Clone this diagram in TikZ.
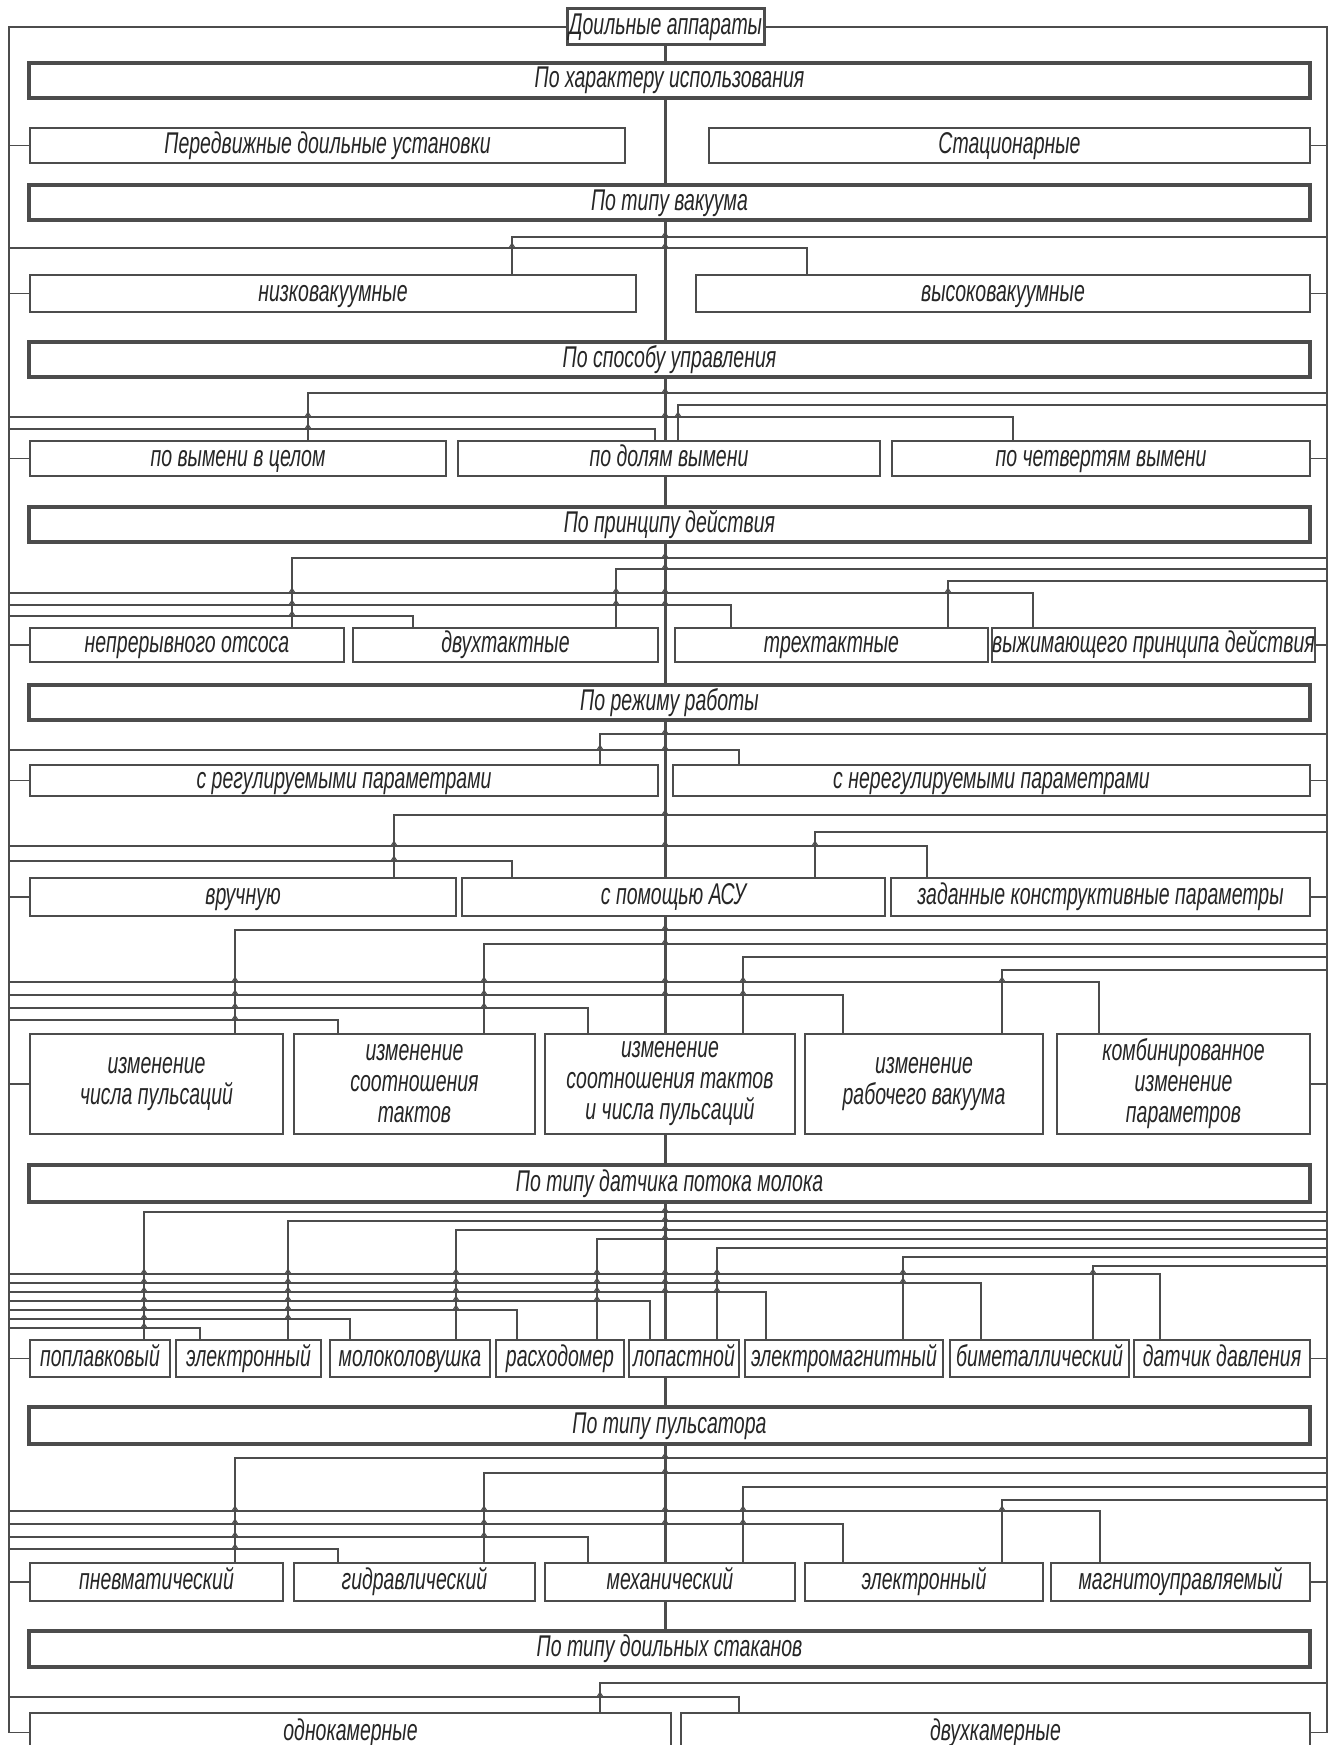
\documentclass[tikz,border=0pt]{standalone}
\usepackage{fontspec}
\newfontfamily\gostfont{Liberation Sans}[FakeStretch=0.65]
\newcommand\itembox[7][item]{%
  \pgfmathsetmacro\bw{#5-#3}\pgfmathsetmacro\bh{#6-#4}%
  \node[#1, minimum width=\bw pt, minimum height=\bh pt] (#2) at ({(#3+#5)/2},{(#4+#6)/2}) {#7};}
\newcommand\fromR[3]{\draw[wire] (R |- 0,#1) -| (#2,0 |- #3.north);}
\newcommand\fromL[3]{\draw[wire] (L |- 0,#1) -| (#2,0 |- #3.north);}
\newcommand\hop[2]{\draw[wire] (#1-3,#2) -- (#1,#2-4.5) -- (#1+3,#2);}
\begin{document}
\begin{tikzpicture}[x=1pt, y=-1pt,
  multi/.style={draw=black!70, line width=1.3pt, fill=white, inner sep=0pt, align=center,
    text=black!85, font=\gostfont\itshape\fontsize{30}{31}\selectfont},
  item/.style={multi, text height=21pt, text depth=6pt},
  bar/.style={item, line width=3.5pt},
  topbox/.style={item, line width=3pt},
  wire/.style={black!70, line width=1.2pt},
  trunk/.style={black!70, line width=3pt}]

\path[use as bounding box, fill=white] (0,0) rectangle (1341,1745);

\itembox[topbox]{top}{567}{9}{764}{45}{Доильные аппараты}
\coordinate (L) at (9,27);
\coordinate (R) at (1327,27);
\coordinate (C) at (665,45);

\itembox[bar]{b1}{29}{63}{1310}{98}{По характеру использования}
\itembox{pered}{30}{128}{625}{163}{Передвижные доильные установки}
\itembox{stac}{709}{128}{1310}{163}{Стационарные}

\itembox[bar]{b2}{29}{185}{1310}{220}{По типу вакуума}
\itembox{low}{30}{275}{636}{312}{низковакуумные}
\itembox{high}{696}{275}{1310}{312}{высоковакуумные}

\itembox[bar]{b3}{29}{342}{1310}{377}{По способу управления}
\itembox{celom}{30}{441}{446}{476}{по вымени в целом}
\itembox{dolyam}{458}{441}{880}{476}{по долям вымени}
\itembox{chetv}{892}{441}{1310}{476}{по четвертям вымени}

\itembox[bar]{b4}{29}{507}{1310}{542}{По принципу действия}
\itembox{nepr}{30}{628}{344}{662}{непрерывного отсоса}
\itembox{dvuh}{353}{628}{658}{662}{двухтактные}
\itembox{treh}{675}{628}{988}{662}{трехтактные}
\itembox{vyzh}{997}{628}{1310}{662}{выжимающего принципа действия}

\itembox[bar]{b5}{29}{685}{1310}{720}{По режиму работы}
\itembox{reg}{30}{765}{658}{796}{с регулируемыми параметрами}
\itembox{nereg}{673}{765}{1310}{796}{с нерегулируемыми параметрами}
\itembox{ruchn}{30}{878}{456}{916}{вручную}
\itembox{asu}{462}{878}{885}{916}{с помощью АСУ}
\itembox{zadan}{891}{878}{1310}{916}{заданные конструктивные параметры}
\itembox[multi]{ch1}{30}{1034}{283}{1134}{изменение\\числа пульсаций}
\itembox[multi]{ch2}{294}{1034}{535}{1134}{изменение\\соотношения\\тактов}
\itembox[multi]{ch3}{545}{1034}{795}{1134}{изменение\\соотношения тактов\\и числа пульсаций}
\itembox[multi]{ch4}{805}{1034}{1043}{1134}{изменение\\рабочего вакуума}
\itembox[multi]{ch5}{1057}{1034}{1310}{1134}{комбинированное\\изменение\\параметров}

\itembox[bar]{b6}{29}{1165}{1310}{1202}{По типу датчика потока молока}
\itembox{pop}{30}{1340}{170}{1377}{поплавковый}
\itembox{elek}{176}{1340}{321}{1377}{электронный}
\itembox{molo}{330}{1340}{490}{1377}{молоколовушка}
\itembox{rash}{496}{1340}{624}{1377}{расходомер}
\itembox{lop}{629}{1340}{739}{1377}{лопастной}
\itembox{elmag}{745}{1340}{943}{1377}{электромагнитный}
\itembox{bimet}{950}{1340}{1129}{1377}{биметаллический}
\itembox{davl}{1134}{1340}{1310}{1377}{датчик давления}

\itembox[bar]{b7}{29}{1407}{1310}{1444}{По типу пульсатора}
\itembox{pnev}{30}{1563}{283}{1601}{пневматический}
\itembox{gidr}{294}{1563}{535}{1601}{гидравлический}
\itembox{mech}{545}{1563}{795}{1601}{механический}
\itembox{elg}{805}{1563}{1043}{1601}{электронный}
\itembox{magn}{1051}{1563}{1310}{1601}{магнитоуправляемый}

\itembox[bar]{b8}{29}{1631}{1310}{1667}{По типу доильных стаканов}
\itembox[multi]{odno}{30}{1713}{671}{1752}{однокамерные}
\itembox[multi]{dvuhk}{681}{1713}{1310}{1752}{двухкамерные}

\foreach \a/\b in {top/b1,b1/b2,b2/b3,b3/dolyam,dolyam/b4,b4/b5,b5/asu,asu/ch3,ch3/b6,b6/lop,lop/b7,b7/mech,mech/b8}
  \draw[trunk] (C |- \a.south) -- (C |- \b.north);

\draw[wire] (top.west) -| (L |- odno.west) -- (odno.west);
\draw[wire] (top.east) -| (R |- dvuhk.east) -- (dvuhk.east);
\foreach \n in {pered,low,celom,nepr,reg,ruchn,ch1,pop,pnev}
  \draw[wire] (L |- \n.west) -- (\n.west);
\foreach \n in {stac,high,chetv,vyzh,nereg,zadan,ch5,davl,magn}
  \draw[wire] (\n.east) -- (R |- \n.east);

\fromR{237}{512}{low}
\fromL{248}{807}{high}

\fromR{393}{308}{celom}
\fromR{405}{678}{dolyam}
\fromL{417}{1013}{chetv}
\fromL{429}{655}{dolyam}

\fromR{558}{292}{nepr}
\fromR{569}{616}{dvuh}
\fromR{581}{948}{treh}
\fromL{593}{1033}{vyzh}
\fromL{605}{731}{treh}
\fromL{616}{413}{dvuh}

\fromR{734}{600}{reg}
\fromL{750}{739}{nereg}
\fromR{815}{394}{ruchn}
\fromR{832}{815}{asu}
\fromL{846}{927}{zadan}
\fromL{861}{512}{asu}

\fromR{930}{235}{ch1}
\fromR{944}{484}{ch2}
\fromR{957}{743}{ch3}
\fromR{970}{1002}{ch4}
\fromL{982}{1099}{ch5}
\fromL{995}{843}{ch4}
\fromL{1008}{588}{ch3}
\fromL{1020}{338}{ch2}

\fromR{1212}{144}{pop}
\fromR{1221}{288}{elek}
\fromR{1230}{456}{molo}
\fromR{1239}{597}{rash}
\fromR{1248}{717}{lop}
\fromR{1257}{903}{elmag}
\fromR{1266}{1093}{bimet}
\fromL{1274}{1160}{davl}
\fromL{1283}{981}{bimet}
\fromL{1292}{766}{elmag}
\fromL{1301}{650}{lop}
\fromL{1310}{517}{rash}
\fromL{1319}{350}{molo}
\fromL{1328}{200}{elek}

\fromR{1458}{235}{pnev}
\fromR{1473}{484}{gidr}
\fromR{1487}{743}{mech}
\fromR{1500}{1002}{elg}
\fromL{1511}{1100}{magn}
\fromL{1524}{843}{elg}
\fromL{1537}{588}{mech}
\fromL{1549}{338}{gidr}

\fromR{1683}{600}{odno}
\fromL{1697}{739}{dvuhk}

\foreach \x/\y in {665/237,512/248,665/248,
  665/393,308/417,665/417,678/417,308/429,
  665/558,665/569,292/593,616/593,665/593,948/593,292/605,616/605,665/605,292/616,
  665/734,600/750,665/750,
  665/815,394/846,665/846,815/846,394/861,
  665/930,665/944,235/982,484/982,665/982,743/982,1002/982,
  235/995,484/995,665/995,743/995,235/1008,484/1008,235/1020,
  665/1212,665/1221,665/1230,665/1239,
  665/1458,665/1473,235/1511,484/1511,665/1511,743/1511,1002/1511,
  235/1524,484/1524,665/1524,743/1524,235/1537,484/1537,235/1549,
  600/1697}
  \hop{\x}{\y};
\foreach \y/\e in {1274/1160,1283/981,1292/766,1301/650,1310/517,1319/350,1328/200}
  \foreach \x in {144,288,456,597,665,717,903,1093}
    {\ifdim\x pt<\e pt\relax \hop{\x}{\y}\fi}

\end{tikzpicture}
\end{document}
